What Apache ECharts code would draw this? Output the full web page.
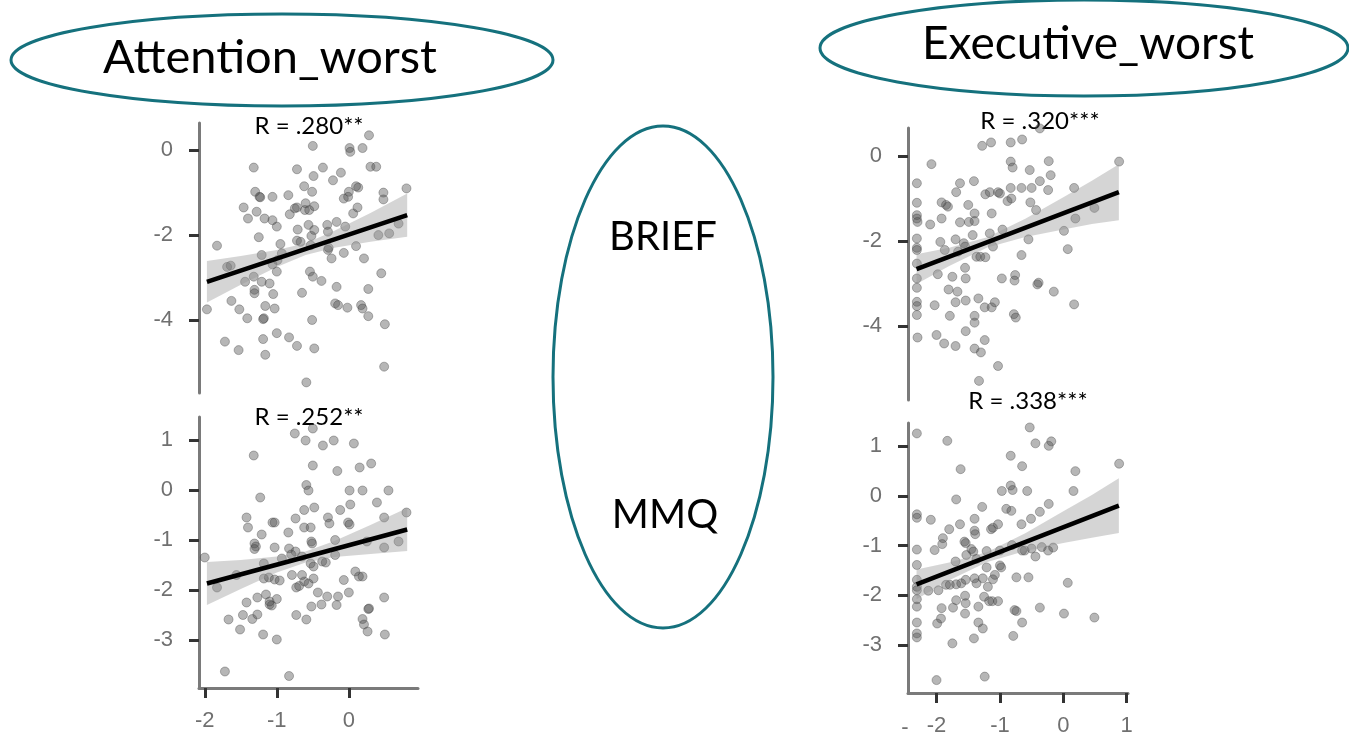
<!DOCTYPE html>
<html>
<head>
<meta charset="utf-8">
<title>Attention_worst / Executive_worst</title>
<script src="https://cdn.jsdelivr.net/npm/echarts@6/dist/echarts.min.js"></script>
<style>
  html, body { margin: 0; padding: 0; background: #fff; }
  #main { width: 1349px; height: 740px; }
</style>
</head>
<body>
<div id="main"></div>
<script>
// points, [x, y]
var attBriefPts = [[0.28,0.35],[-0.50,0.10],[0.01,0.05],[0.02,-0.04],[0.19,0.05],[-1.32,-0.41],[-0.72,-0.45],[-0.36,-0.41],[-0.49,-0.61],[-0.11,-0.53],[-0.22,-0.71],[0.30,-0.39],[0.38,-0.39],[-0.62,-0.85],[-0.51,-0.98],[0.00,-0.98],[0.13,-0.88],[0.10,-0.85],[-1.30,-0.98],[-1.24,-1.10],[-1.23,-1.11],[-1.06,-1.10],[-0.84,-1.06],[0.48,-1.00],[0.48,-1.16],[0.80,-0.90],[-1.46,-1.35],[-1.28,-1.45],[-1.40,-1.61],[-1.17,-1.61],[-1.06,-1.65],[-1.00,-1.80],[-0.82,-1.51],[-0.75,-1.37],[-0.72,-1.35],[-0.61,-1.41],[-0.55,-1.41],[-0.48,-1.32],[-0.60,-1.25],[0.06,-1.49],[0.12,-1.35],[-0.07,-1.14],[-0.01,-1.10],[-0.17,-1.69],[-0.30,-1.76],[-0.05,-1.80],[-0.56,-1.76],[-0.71,-1.87],[-0.48,-1.88],[-0.29,-1.92],[0.69,-1.73],[0.41,-2.00],[0.56,-1.96],[-1.25,-2.05],[-0.95,-2.21],[-0.72,-2.13],[-0.67,-2.16],[-0.52,-2.02],[0.10,-2.26],[-1.83,-2.25],[-0.53,-2.24],[-0.28,-2.30],[-0.07,-2.42],[-1.21,-2.47],[-0.93,-2.43],[-0.99,-2.59],[-1.69,-2.75],[-1.64,-2.72],[-1.06,-2.69],[-0.29,-2.35],[-0.24,-2.55],[0.21,-2.55],[-1.00,-2.86],[-0.54,-2.86],[-0.50,-2.98],[-0.38,-3.08],[-1.44,-3.10],[-1.32,-2.98],[-1.21,-3.10],[-1.10,-3.14],[0.45,-2.90],[-1.31,-3.29],[-1.31,-3.37],[-1.05,-3.39],[-0.17,-3.22],[0.27,-3.27],[-0.65,-3.36],[-1.97,-3.75],[-1.63,-3.55],[-1.52,-3.75],[-1.41,-3.96],[-1.18,-3.96],[-1.19,-3.98],[-1.16,-3.67],[-1.03,-3.73],[-0.19,-3.61],[-0.15,-3.65],[-0.02,-3.71],[0.17,-3.65],[0.19,-3.73],[0.27,-3.91],[-0.51,-4.00],[0.50,-4.10],[-1.72,-4.51],[-1.53,-4.71],[-1.19,-4.45],[-1.00,-4.31],[-0.83,-4.41],[-0.72,-4.61],[-1.16,-4.82],[-0.48,-4.67],[0.49,-5.10],[-0.59,-5.47]];

var attMmqPts = [[-0.75,1.13],[-0.60,0.99],[-0.50,1.23],[-0.36,0.89],[-0.21,0.99],[0.07,0.93],[-1.32,0.69],[-0.50,0.49],[-0.16,0.38],[0.15,0.45],[0.31,0.53],[-0.59,0.10],[-0.56,-0.01],[-1.23,-0.15],[0.01,-0.01],[0.19,-0.01],[0.55,-0.01],[0.39,-0.25],[0.80,-0.45],[0.49,-0.55],[-1.42,-0.55],[-1.40,-0.75],[-1.06,-0.65],[-1.03,-0.65],[-0.74,-0.57],[-0.62,-0.40],[-0.48,-0.35],[-0.62,-0.75],[-0.53,-0.75],[-0.29,-0.55],[-0.27,-0.67],[-0.12,-0.40],[0.02,-0.29],[-0.01,-0.65],[0.01,-0.69],[-0.84,-0.85],[-1.21,-0.89],[-1.31,-1.07],[-1.29,-1.13],[-1.31,-1.18],[-1.03,-1.15],[-0.83,-1.17],[-0.74,-1.23],[-0.52,-1.03],[-0.51,-1.07],[-0.19,-1.00],[0.25,-1.03],[0.69,-1.03],[0.49,-1.15],[-2.00,-1.35],[-1.83,-1.95],[-1.56,-1.70],[-1.18,-1.47],[-1.18,-1.77],[-1.11,-1.75],[-1.03,-1.79],[-0.96,-1.81],[-0.93,-1.37],[-0.80,-1.29],[-0.65,-1.33],[-0.53,-1.47],[-0.49,-1.53],[-0.37,-1.43],[-0.32,-1.45],[-0.19,-1.30],[-0.73,-1.95],[-0.69,-1.92],[-0.62,-1.83],[-0.56,-1.87],[-0.49,-1.77],[-0.79,-1.70],[-0.65,-1.70],[-0.07,-1.80],[0.09,-1.63],[0.14,-1.73],[0.19,-1.73],[0.00,-2.05],[-1.42,-2.25],[-1.27,-2.15],[-1.15,-2.09],[-1.10,-2.29],[-1.07,-2.31],[-1.10,-2.23],[-1.00,-2.18],[-0.52,-2.33],[-0.43,-2.05],[-0.38,-2.29],[-0.30,-2.13],[-0.15,-2.13],[-0.17,-2.30],[0.49,-2.15],[-1.67,-2.59],[-1.47,-2.50],[-1.34,-2.58],[-1.27,-2.49],[-1.51,-2.79],[-1.19,-2.89],[-1.00,-2.99],[-0.73,-2.50],[-0.59,-2.59],[0.19,-2.58],[0.21,-2.69],[0.26,-2.83],[0.27,-2.38],[0.28,-2.37],[0.50,-2.89],[-1.72,-3.63],[-0.83,-3.72]];

var exeBriefPts = [[-0.37,0.65],[-1.28,0.24],[-1.14,0.32],[-0.83,0.32],[-0.65,0.39],[-2.08,-0.19],[-0.83,-0.13],[-0.80,-0.27],[-0.53,-0.33],[-0.23,-0.12],[-0.20,-0.45],[-0.37,-0.59],[-0.24,-0.80],[-2.31,-0.64],[-1.63,-0.64],[-1.41,-0.59],[-1.69,-0.85],[-1.23,-0.90],[-1.16,-0.85],[-1.03,-0.85],[-1.00,-0.88],[-0.83,-0.75],[-0.66,-0.75],[-0.50,-0.75],[-2.31,-1.10],[-1.92,-1.09],[-1.85,-1.15],[-1.82,-1.19],[-1.50,-1.15],[-0.88,-1.06],[-0.82,-1.00],[-0.52,-1.09],[-0.43,-1.27],[0.17,-0.75],[0.88,-0.13],[0.49,-1.22],[-2.31,-1.39],[-2.31,-1.47],[-2.10,-1.61],[-1.92,-1.47],[-1.63,-1.56],[-1.49,-1.55],[-1.40,-1.35],[-1.40,-1.53],[-1.13,-1.35],[-2.30,-1.55],[0.19,-1.47],[-2.31,-1.94],[-2.31,-2.16],[-2.31,-2.21],[-2.31,-2.53],[-1.94,-2.02],[-1.87,-2.21],[-1.70,-1.96],[-1.57,-2.05],[-1.55,-2.13],[-1.43,-1.86],[-1.16,-1.82],[-1.11,-2.13],[-0.96,-1.73],[-0.55,-1.96],[0.01,-1.76],[0.07,-2.19],[-0.66,-2.33],[-1.37,-2.37],[-1.31,-2.37],[-1.23,-2.38],[-1.66,-2.25],[-2.31,-2.88],[-2.31,-3.10],[-1.98,-2.78],[-1.75,-2.84],[-1.55,-2.63],[-1.54,-2.88],[-0.97,-2.88],[-0.76,-2.80],[-0.77,-2.93],[-0.39,-2.98],[-0.41,-3.02],[-0.15,-3.19],[-1.81,-3.14],[-1.67,-3.19],[-2.31,-3.43],[-2.31,-3.53],[-2.31,-3.74],[-2.03,-3.51],[-1.70,-3.44],[-1.54,-3.40],[-1.34,-3.35],[-1.24,-3.56],[-1.13,-3.56],[-1.08,-3.44],[-1.79,-3.76],[-1.40,-3.76],[-1.40,-3.92],[-0.78,-3.72],[-0.75,-3.80],[0.17,-3.49],[-2.30,-4.27],[-2.00,-4.21],[-1.88,-4.41],[-1.70,-4.47],[-1.54,-4.12],[-1.24,-4.33],[-1.40,-4.53],[-1.30,-4.62],[-1.03,-4.94],[-1.33,-5.29]];

var exeMmqPts = [[-0.53,1.38],[-2.31,1.26],[-1.83,1.11],[-0.44,1.06],[-0.23,1.01],[-0.19,1.10],[-0.83,0.81],[-0.65,0.60],[-1.62,0.54],[0.19,0.50],[0.88,0.65],[-0.83,0.21],[-0.80,0.12],[-0.97,0.10],[-0.57,0.10],[0.16,0.10],[-1.69,-0.07],[-1.28,-0.22],[-0.90,-0.26],[-0.82,-0.30],[-0.23,-0.16],[-0.37,-0.32],[-0.51,-0.46],[-2.31,-0.37],[-2.31,-0.44],[-2.09,-0.48],[-1.40,-0.46],[-1.63,-0.57],[-1.80,-0.67],[-1.40,-0.70],[-1.39,-0.77],[-1.14,-0.67],[-1.11,-0.64],[-1.03,-0.57],[-0.66,-0.57],[-1.90,-0.85],[-1.56,-0.92],[-1.54,-0.95],[-2.31,-1.08],[-2.03,-1.09],[-1.91,-0.97],[-1.45,-1.07],[-1.42,-1.12],[-1.53,-1.19],[-1.21,-1.11],[-1.00,-1.10],[-0.81,-0.99],[-0.65,-1.10],[-0.61,-1.10],[-0.50,-1.06],[-0.34,-1.03],[-0.24,-1.10],[-0.16,-1.04],[-0.44,-1.22],[-2.31,-1.39],[-1.70,-1.32],[-1.37,-1.27],[-1.21,-1.44],[-1.00,-1.40],[-0.98,-1.44],[-2.31,-1.69],[-2.31,-1.83],[-2.31,-1.90],[-2.31,-2.08],[-2.31,-2.23],[-2.13,-1.91],[-1.97,-1.90],[-1.85,-1.79],[-1.79,-1.79],[-1.69,-1.78],[-1.61,-1.76],[-1.54,-1.69],[-1.40,-1.66],[-1.37,-1.76],[-1.27,-1.66],[-1.19,-1.83],[-1.11,-1.68],[-1.08,-1.59],[-0.74,-1.64],[-0.55,-1.64],[0.07,-1.75],[-1.92,-2.26],[-1.74,-2.25],[-1.69,-2.10],[-1.55,-2.01],[-1.54,-2.16],[-1.34,-2.23],[-1.25,-2.03],[-1.17,-2.12],[-1.12,-2.12],[-1.03,-2.12],[-0.77,-2.30],[-0.74,-2.32],[-0.37,-2.25],[0.01,-2.37],[0.49,-2.45],[-1.99,-2.57],[-1.93,-2.47],[-1.55,-2.37],[-1.34,-2.55],[-1.27,-2.67],[-0.65,-2.55],[-2.31,-2.55],[-2.31,-2.77],[-2.31,-2.85],[-1.75,-2.97],[-1.41,-2.87],[-0.79,-2.82],[-2.00,-3.71],[-1.24,-3.64]];

// fitted lines (end points) and confidence bands
var attFitX = [-1.97, 0.81];
var attBriefFitY = [-3.10, -1.53];
var attMmqFitY = [-1.87, -0.79];
var exeFitX = [-2.315, 0.876];
var exeBriefFitY = [-2.66, -0.85];
var exeMmqFitY = [-1.78, -0.195];

var attBandX = [-1.97, -1.5, -1.0, -0.6, -0.2, 0.3, 0.81];
var attBriefHi = [-2.61, -2.49, -2.35, -2.19, -1.90, -1.48, -1.02];
var attBriefLo = [-3.59, -3.17, -2.75, -2.47, -2.30, -2.16, -2.04];
var attMmqHi = [-1.44, -1.40, -1.33, -1.23, -1.02, -0.70, -0.36];
var attMmqLo = [-2.30, -1.98, -1.65, -1.45, -1.34, -1.28, -1.22];
var exeBandX = [-2.315, -1.8, -1.2, -0.6, 0.0, 0.45, 0.876];
var exeBriefHi = [-2.31, -2.155, -1.91, -1.475, -0.97, -0.58, -0.19];
var exeBriefLo = [-3.01, -2.585, -2.15, -1.905, -1.73, -1.60, -1.51];
var exeMmqHi = [-1.48, -1.34, -1.13, -0.75, -0.31, 0.02, 0.355];
var exeMmqLo = [-2.08, -1.70, -1.33, -1.11, -0.95, -0.84, -0.745];

var rLabels = ['R = .280**', 'R = .252**', 'R = .320***', 'R = .338***'];
var briefTicks = [0, -2, -4];
var mmqTicks = [1, 0, -1, -2, -3];
var attXTicks = [-2, -1, 0];
var exeXTicks = [-2, -1, 0, 1];

var panels = [
  {pts: attBriefPts, fitX: attFitX, fitY: attBriefFitY, bandX: attBandX, hi: attBriefHi, lo: attBriefLo,
   yTicks: briefTicks, xTicks: null, grid: {left: 199, top: 123, width: 219, height: 270},
   xr: [-2.08, 0.96], yr: [-5.72, 0.64], r: rLabels[0], rPos: [309, 126]},
  {pts: attMmqPts, fitX: attFitX, fitY: attMmqFitY, bandX: attBandX, hi: attMmqHi, lo: attMmqLo,
   yTicks: mmqTicks, xTicks: attXTicks, grid: {left: 199, top: 417, width: 219, height: 271},
   xr: [-2.08, 0.96], yr: [-3.96, 1.46], r: rLabels[1], rPos: [309, 417]},
  {pts: exeBriefPts, fitX: exeFitX, fitY: exeBriefFitY, bandX: exeBandX, hi: exeBriefHi, lo: exeBriefLo,
   yTicks: briefTicks, xTicks: null, grid: {left: 908, top: 128, width: 220, height: 272},
   xr: [-2.45, 1.02], yr: [-5.74, 0.66], r: rLabels[2], rPos: [1040, 121]},
  {pts: exeMmqPts, fitX: exeFitX, fitY: exeMmqFitY, bandX: exeBandX, hi: exeMmqHi, lo: exeMmqLo,
   yTicks: mmqTicks, xTicks: exeXTicks, grid: {left: 908, top: 423, width: 220, height: 270},
   xr: [-2.45, 1.02], yr: [-3.97, 1.47], r: rLabels[3], rPos: [1028, 401]}
];

var axisGrey = '#7a7a7a';
var labelStyle = {color: '#707070', fontSize: 22, fontFamily: 'Liberation Sans'};

var grids = [], xAxes = [], yAxes = [], series = [], texts = [];

panels.forEach(function (p, i) {
  grids.push(p.grid);
  var showX = p.xTicks !== null;
  xAxes.push({
    gridIndex: i, type: 'value', min: p.xr[0], max: p.xr[1],
    show: showX,
    axisLine: {show: showX, onZero: false, lineStyle: {color: axisGrey, width: 3}},
    axisTick: {show: showX, length: 10, customValues: p.xTicks || [], lineStyle: {color: '#333', width: 3}},
    axisLabel: Object.assign({show: showX, customValues: p.xTicks || [], margin: 22}, labelStyle),
    splitLine: {show: false}
  });
  yAxes.push({
    gridIndex: i, type: 'value', min: p.yr[0], max: p.yr[1],
    axisLine: {show: true, onZero: false, lineStyle: {color: axisGrey, width: 3}},
    axisTick: {show: true, length: 10, customValues: p.yTicks, lineStyle: {color: '#333', width: 3}},
    axisLabel: Object.assign({customValues: p.yTicks, margin: 26}, labelStyle),
    splitLine: {show: false}
  });
  series.push({
    type: 'scatter', xAxisIndex: i, yAxisIndex: i, symbolSize: 9, z: 2,
    itemStyle: {color: 'rgba(80,80,80,0.52)', borderColor: 'rgba(60,60,60,0.45)', borderWidth: 1},
    data: p.pts
  });
  series.push({
    type: 'custom', xAxisIndex: i, yAxisIndex: i, z: 3, silent: true,
    data: [[p.bandX[0], p.lo[0]]],
    renderItem: function (params, api) {
      var poly = [];
      for (var k = 0; k < p.bandX.length; k++) poly.push(api.coord([p.bandX[k], p.hi[k]]));
      for (var k = p.bandX.length - 1; k >= 0; k--) poly.push(api.coord([p.bandX[k], p.lo[k]]));
      return {type: 'polygon', shape: {points: poly}, style: {fill: 'rgba(150,150,150,0.4)'}};
    }
  });
  series.push({
    type: 'line', xAxisIndex: i, yAxisIndex: i, z: 4, symbol: 'none', silent: true,
    lineStyle: {color: '#000', width: 4.5},
    data: [[p.fitX[0], p.fitY[0]], [p.fitX[1], p.fitY[1]]]
  });
  texts.push({
    type: 'text', x: p.rPos[0], y: p.rPos[1],
    style: {text: p.r, fill: '#000', font: '24px Lato', align: 'center', verticalAlign: 'middle',
            textAlign: 'center', textVerticalAlign: 'middle'}
  });
});

var teal = '#15717d';
function ellipse(cx, cy, rx, ry) {
  return {type: 'ellipse', shape: {cx: cx, cy: cy, rx: rx, ry: ry},
          style: {fill: 'none', stroke: teal, lineWidth: 3}};
}
function bigText(t, x, y, size) {
  return {type: 'text', x: x, y: y,
          style: {text: t, fill: '#000', font: size + 'px Lato', align: 'center', verticalAlign: 'middle',
                  textAlign: 'center', textVerticalAlign: 'middle'}};
}

var graphics = [
  ellipse(282, 60, 271, 46),
  ellipse(1084, 48, 264, 48),
  ellipse(663, 377, 110, 251),
  bigText('Attention_worst', 270, 58, 47),
  bigText('Executive_worst', 1088, 44, 46),
  bigText('BRIEF', 663, 237, 40),
  bigText('MMQ', 665, 515, 40),
  {type: 'text', x: 905, y: 728, style: {text: '-', fill: '#707070', font: '22px "Liberation Sans"',
    align: 'center', verticalAlign: 'middle', textAlign: 'center', textVerticalAlign: 'middle'}}
].concat(texts);

var myChart = echarts.init(document.getElementById('main'));
myChart.setOption({
  animation: false,
  backgroundColor: '#fff',
  grid: grids,
  xAxis: xAxes,
  yAxis: yAxes,
  series: series,
  graphic: {elements: graphics}
});
</script>
</body>
</html>
